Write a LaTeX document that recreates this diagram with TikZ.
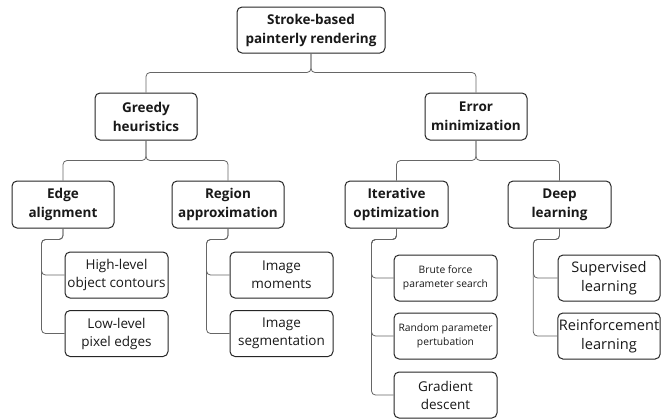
\documentclass[tikz,border=0pt]{standalone}
\usepackage{fontspec}
\setmainfont{Open Sans}
\usetikzlibrary{calc}
\tikzset{
  box/.style={draw=black!85, line width=1pt, rounded corners=5pt, fill=white, align=center, inner sep=1pt, text=black!90},
  bold/.style={box, font=\fontsize{13.5}{19}\selectfont\bfseries},
  leaf/.style={box, font=\fontsize{13.5}{18}\selectfont, minimum width=103pt, minimum height=46pt},
  bigleaf/.style={box, font=\fontsize{14.6}{18.5}\selectfont, minimum width=102pt, minimum height=46pt},
  small/.style={box, font=\fontsize{10.3}{14.5}\selectfont, minimum width=103pt, minimum height=46pt},
  conn/.style={draw=black!60, line width=0.8pt, rounded corners=4pt},
}
\begin{document}
\begin{tikzpicture}[x=1pt,y=-1pt]
\useasboundingbox (0,0) rectangle (663,418);
% level 0
\node[bold, minimum width=148pt, minimum height=46pt] (root) at (311,30) {Stroke-based\\painterly rendering};
% level 1
\node[bold, minimum width=102pt, minimum height=47pt] (gh) at (146,116.5) {Greedy\\heuristics};
\node[bold, minimum width=102pt, minimum height=47pt] (em) at (476,116.5) {Error\\minimization};
% level 2
\node[bold, minimum width=102pt, minimum height=47pt] (ea) at (63,204.5) {Edge\\alignment};
\node[bold, minimum width=112pt, minimum height=47pt] (ra) at (228,204.5) {Region\\approximation};
\node[bold, minimum width=103pt, minimum height=47pt] (io) at (396.5,204.5) {Iterative\\optimization};
\node[bold, minimum width=103pt, minimum height=47pt] (dl) at (559.5,204.5) {Deep\\learning};
% leaves
\node[leaf] (hl) at (116.5,275) {High-level\\object contours};
\node[leaf] (ll) at (116.5,333.5) {Low-level\\pixel edges};
\node[leaf] (im) at (281.5,275) {Image\\moments};
\node[leaf] (is) at (281.5,333.5) {Image\\segmentation};
\node[small] (bf) at (445.5,278) {Brute force\\parameter search};
\node[small] (rp) at (445.5,336) {Random parameter\\pertubation};
\node[leaf] (gd) at (445.5,395) {Gradient\\descent};
\node[bigleaf] (sl) at (609,278) {Supervised\\learning};
\node[bigleaf] (rl) at (609,336) {Reinforcement\\learning};

% top-level connectors (brace style)
\draw[conn] (gh.north) |- ($(root.south)+(0,19)$) -- (root.south);
\draw[conn] (em.north) |- ($(root.south)+(0,19)$) -- (root.south);
\draw[conn] (ea.north) |- ($(gh.south)+(0,20)$) -- (gh.south);
\draw[conn] (ra.north) |- ($(gh.south)+(0,20)$) -- (gh.south);
\draw[conn] (io.north) |- ($(em.south)+(0,20)$) -- (em.south);
\draw[conn] (dl.north) |- ($(em.south)+(0,20)$) -- (em.south);

% leaf connectors
\foreach \p/\c/\s in {ea/hl/23, ea/ll/23, ra/im/23, ra/is/23, io/bf/22, io/rp/22, io/gd/22, dl/sl/24, dl/rl/24}{
  \draw[conn] (\p.south) -- ++(0,11) -| ([xshift=-\s pt]\c.west) -- (\c.west);
}
\end{tikzpicture}
\end{document}
